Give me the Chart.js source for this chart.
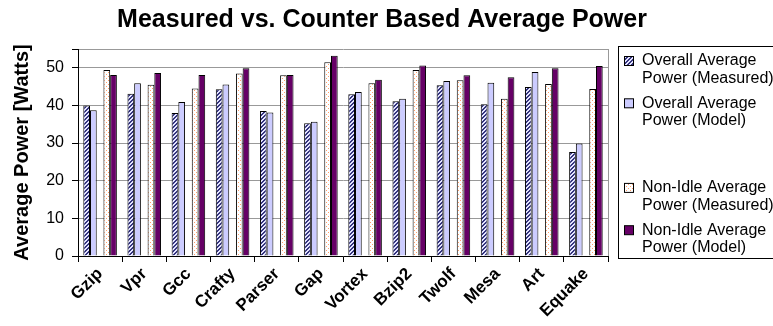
<!DOCTYPE html>
<html>
<head>
<meta charset="utf-8">
<script src="https://cdn.jsdelivr.net/npm/chart.js@4/dist/chart.umd.min.js"></script>
<style>
  html, body { margin: 0; padding: 0; background: #fff; }
  #wrap { width: 773px; height: 326px; position: relative; }
</style>
</head>
<body>
<div id="wrap"><canvas id="chart"></canvas></div>
<script>
const categories = ['Gzip', 'Vpr', 'Gcc', 'Crafty', 'Parser', 'Gap', 'Vortex', 'Bzip2', 'Twolf', 'Mesa', 'Art', 'Equake'];
const overallMeasured = [40.0, 43.1, 38.0, 44.3, 38.5, 35.3, 43.0, 41.1, 45.4, 40.3, 44.9, 27.6];
const overallModel = [38.7, 45.9, 40.9, 45.6, 38.1, 35.7, 43.6, 41.8, 46.5, 46.0, 48.9, 29.9];
const nonIdleMeasured = [49.4, 45.5, 44.5, 48.5, 48.0, 51.5, 45.9, 49.4, 46.7, 41.8, 45.7, 44.4];
const nonIdleModel = [48.1, 48.6, 48.1, 49.9, 48.1, 53.2, 46.8, 50.6, 48.0, 47.5, 49.9, 50.5];
const yTicks = [0, 10, 20, 30, 40, 50];
const chartTitle = 'Measured vs. Counter Based Average Power';
const FONT = "'Liberation Sans', Arial, sans-serif";

// fill patterns like the old office chart
function makePattern(bg, fg, pixels) {
  const c = document.createElement('canvas');
  c.width = 4; c.height = 4;
  const g = c.getContext('2d');
  g.fillStyle = bg; g.fillRect(0, 0, 4, 4);
  g.fillStyle = fg;
  pixels.forEach(p => g.fillRect(p[0], p[1], 1, 1));
  return g.createPattern(c, 'repeat');
}
const hatch = makePattern('#e4e4ff', '#34347e', [[3,0],[2,1],[1,2],[0,3],[0,0],[3,1],[2,2],[1,3]]);
const dots = makePattern('#ffffff', '#ff9e6a', [[0,0],[2,2]]);

// title + legend drawn by hand (title is centred over the whole figure, legend labels wrap)
const boxLegend = {
  id: 'boxLegend',
  afterDraw(chart) {
    const ctx = chart.ctx;
    ctx.save();
    ctx.fillStyle = '#000';
    ctx.font = 'bold 25px ' + FONT;
    ctx.textAlign = 'center';
    ctx.textBaseline = 'middle';
    ctx.fillText(chartTitle, 382, 20);

    ctx.textAlign = 'left';
    ctx.strokeStyle = '#000';
    ctx.lineWidth = 1;
    ctx.strokeRect(618.5, 46.5, 200, 212);
    ctx.font = '16px ' + FONT;
    chart.data.datasets.forEach((ds, i) => {
      if (!ds.label) return;
      const y = 61 + i * 42.3;
      ctx.fillStyle = ds.backgroundColor;
      ctx.fillRect(624.5, y - 4.5, 9, 9);
      ctx.strokeRect(624.5, y - 4.5, 9, 9);
      ctx.fillStyle = '#000';
      ds.label.split('\n').forEach((line, k) => ctx.fillText(line, 642, y + k * 17.5));
    });
    // right edge of plot area
    const a = chart.chartArea;
    ctx.strokeStyle = '#999';
    ctx.beginPath();
    ctx.moveTo(Math.round(a.right) + 0.5, a.top);
    ctx.lineTo(Math.round(a.right) + 0.5, a.bottom);
    ctx.stroke();
    ctx.restore();
  }
};

new Chart(document.getElementById('chart'), {
  type: 'bar',
  data: {
    labels: categories,
    datasets: [
      { label: 'Overall Average\nPower (Measured)', data: overallMeasured, backgroundColor: hatch },
      { label: 'Overall Average\nPower (Model)', data: overallModel, backgroundColor: '#ccccff' },
      { label: '', data: [], backgroundColor: '#ffffff' },
      { label: 'Non-Idle Average\nPower (Measured)', data: nonIdleMeasured, backgroundColor: dots },
      { label: 'Non-Idle Average\nPower (Model)', data: nonIdleModel, backgroundColor: '#660066' }
    ].map(d => Object.assign(d, { borderColor: '#000', borderWidth: 1, categoryPercentage: 0.76, barPercentage: 1 }))
  },
  options: {
    responsive: true,
    maintainAspectRatio: false,
    animation: false,
    layout: { padding: { right: 165, left: 0, top: 49, bottom: 0 } },
    plugins: {
      legend: { display: false },
      tooltip: { enabled: false },
      title: { display: false }
    },
    scales: {
      x: {
        afterFit: s => { s.height = 70; },
        border: { color: '#000' },
        grid: { offset: true, drawOnChartArea: false, tickColor: '#000', tickLength: 6 },
        ticks: {
          color: '#000', maxRotation: 45, minRotation: 45, padding: 2,
          font: { family: FONT, size: 17, weight: 'bold' }
        }
      },
      y: {
        min: 0, max: 55,
        afterFit: s => { s.width = 78; },
        afterBuildTicks: s => { s.ticks = yTicks.map(v => ({ value: v })).concat([{ value: 55 }]); },
        border: { color: '#000' },
        grid: { color: '#999', tickColor: '#000', tickLength: 6 },
        ticks: {
          color: '#000', padding: 8,
          font: { family: FONT, size: 16 },
          callback: v => (yTicks.includes(v) ? v : '')
        },
        title: {
          display: true,
          text: 'Average Power [Watts]',
          color: '#000',
          font: { family: FONT, size: 20, weight: 'bold' },
          padding: { top: 10, bottom: 0 }
        }
      }
    }
  },
  plugins: [boxLegend]
});
</script>
</body>
</html>
